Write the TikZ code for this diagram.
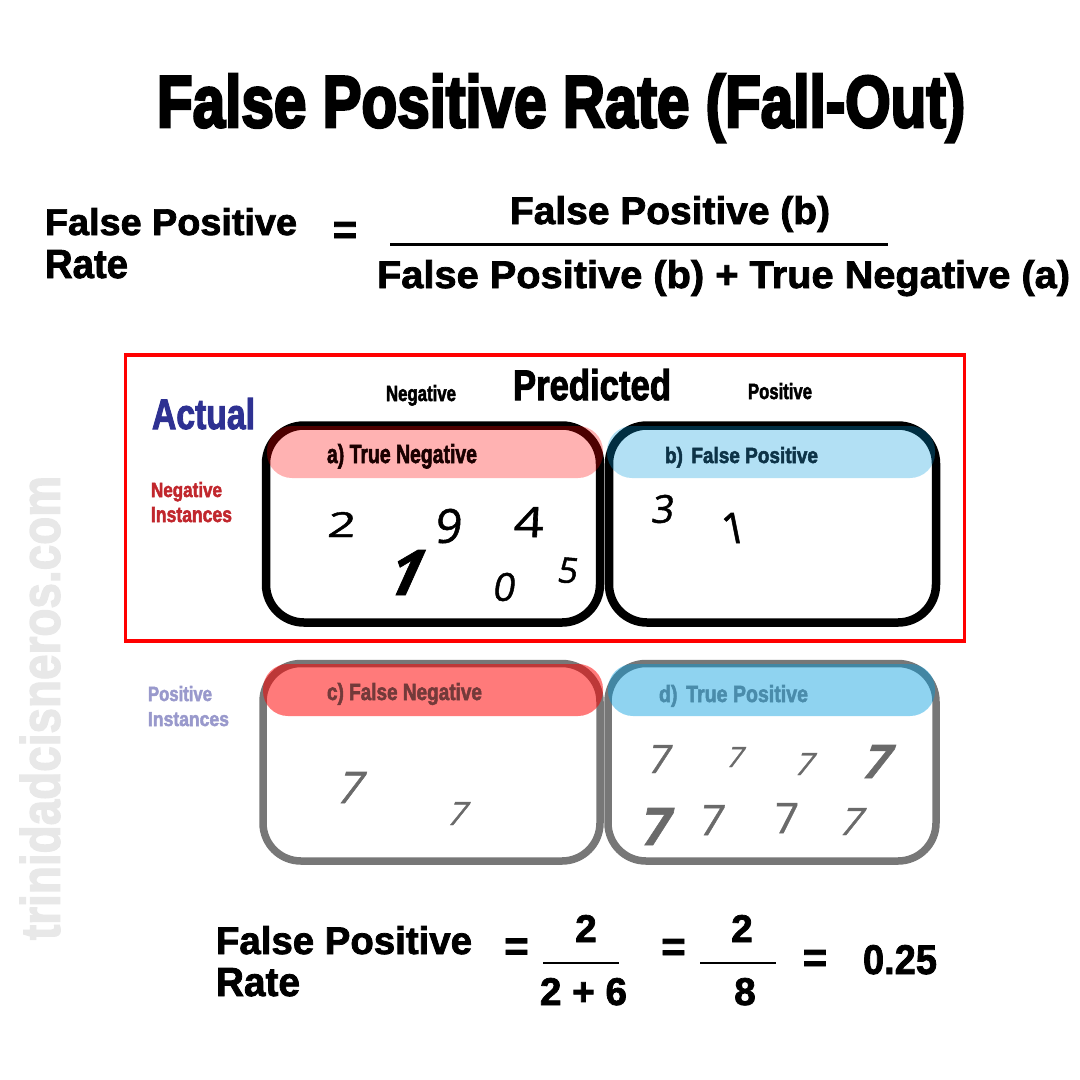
\documentclass[tikz,border=0pt]{standalone}
\usepackage{fontspec}
\setmainfont{Liberation Sans}
\newfontfamily\titlef{Liberation Sans Bold}[FakeBold=4]
\newfontfamily\condf{Liberation Sans Bold}[FakeBold=2.5]
\newfontfamily\heavyf{Liberation Sans Bold}[FakeBold=2]
\newfontfamily\handf{Open Sans}[FakeBold=1.2]
\newcommand{\fitt}[3]{\resizebox{#1pt}{#2pt}{\titlef #3}}
\newcommand{\fitc}[3]{\resizebox{#1pt}{#2pt}{\condf #3}}
\newcommand{\fitb}[3]{\resizebox{#1pt}{#2pt}{\heavyf #3}}
\newcommand{\numb}[2]{\resizebox{!}{#1pt}{\heavyf #2}}
\newcommand{\hdw}[3]{\resizebox{#1pt}{#2pt}{\handf #3}}
\newcommand{\hd}[2]{\resizebox{!}{#1pt}{\handf #2}}
\newcommand{\hdb}[2]{\resizebox{!}{#1pt}{\handf\bfseries #2}}
\definecolor{actualblue}{HTML}{2E3192}
\definecolor{negred}{HTML}{C1272D}
\definecolor{poslav}{HTML}{9999CC}
\definecolor{cellgray}{HTML}{777777}
\definecolor{digitgray}{HTML}{6A6A6A}
\definecolor{wmgray}{HTML}{E8E8E8}
\definecolor{bandblue}{HTML}{009BDD}
\definecolor{txta}{HTML}{1A0000}
\definecolor{txtb}{HTML}{0D3347}
\definecolor{txtc}{HTML}{733A3A}
\definecolor{txtd}{HTML}{4A8CAB}
\begin{document}
\begin{tikzpicture}[x=1pt,y=-1pt,
  lab/.style={inner sep=0pt, outer sep=0pt, anchor=base west},
  hand/.style={inner sep=0pt, outer sep=0pt},
  eqs/.style={inner sep=0pt, outer sep=0pt, anchor=base, font=\fontsize{42}{42}\selectfont\heavyf},
  cellblack/.style={draw=black, line width=8.5pt, rounded corners=38pt},
  cellgrey/.style={draw=cellgray, line width=7.5pt, rounded corners=38pt},
  bandshape/.style={rounded corners=25pt},
]
\fill[white] (0,0) rectangle (1080,1080);
\useasboundingbox (0,0) rectangle (1080,1080);

% watermark
\node[hand, rotate=90, text=wmgray] (wm) at (40,708) {\resizebox{464pt}{40pt}{\condf trinidadcisneros.com}};

% title
\node[lab] (title) at (157,127) {\fitt{808}{53}{False Positive Rate (Fall-Out)}};

% top formula
\node[lab] (fpA) at (45,235) {\fitb{252}{27}{False Positive}};
\node[lab] (rateA) at (45,278) {\fitb{83}{28}{Rate}};
\node[eqs] (eqA) at (345,244) {=};
\node[lab] (numA) at (510,224) {\fitb{320}{28}{False Positive (b)}};
\node[lab] (denA) at (377,288) {\fitb{693}{28}{False Positive (b) + True Negative (a)}};
\draw[line width=3pt] (390,244) -- (888,244);

% red frame
\draw[red, line width=3.5pt] (125.5,355) rectangle (964.5,641);

% headers
\node[lab, text=actualblue] (actual) at (152,429) {\fitc{103}{31}{Actual}};
\node[lab] (hneg) at (386,401) {\fitc{70}{16}{Negative}};
\node[lab] (pred) at (513,400) {\fitc{158}{31}{Predicted}};
\node[lab] (hpos) at (748,399) {\fitc{64}{16}{Positive}};
\node[lab, text=negred] (ni1) at (151,497) {\fitc{71}{15}{Negative}};
\node[lab, text=negred] (ni2) at (151,522) {\fitc{81}{15}{Instances}};
\node[lab, text=poslav] (pi1) at (148,701) {\fitc{64}{15}{Positive}};
\node[lab, text=poslav] (pi2) at (148,726) {\fitc{81}{14}{Instances}};

% cells
\draw[cellblack] (266,425.5) rectangle (600,622.5);
\draw[cellblack] (609,425.5) rectangle (936,622.5);
\draw[cellgrey] (263,663.5) rectangle (600,861);
\draw[cellgrey] (608,663.5) rectangle (936,861);

% bands
\fill[bandshape, red, fill opacity=0.3] (267,426) rectangle (603,478);
\fill[bandshape, bandblue, fill opacity=0.3] (607,426) rectangle (935,478);
\fill[bandshape, red, fill opacity=0.52] (263,664) rectangle (603,716);
\fill[bandshape, bandblue, fill opacity=0.44] (608,664) rectangle (935,716);

% band labels
\node[lab, text=txta] (ta) at (327,463) {\fitc{150}{19}{a) True Negative}};
\node[lab, text=txtb] (tb) at (665,463) {\fitc{153}{16}{b)\, False Positive}};
\node[lab, text=txtc] (tc) at (327,700) {\fitc{155}{17}{c) False Negative}};
\node[lab, text=txtd] (td) at (659,702) {\fitc{149}{17}{d)\, True Positive}};

% digits, cell a
\node[hand, xslant=0.1] (a2) at (342,524.5) {\hdw{28}{25}{2}};
\node[hand, xslant=0.1] (a9) at (449,526) {\hd{34}{9}};
\node[hand, xslant=0.05] (a4) at (529,522) {\hdw{30}{30}{4}};
\node[hand, xslant=0.45] (a1) at (407.5,572.5) {\hdb{45}{1}};
\node[hand, xslant=0.15] (a0) at (505,587) {\hd{28}{0}};
\node[hand, xslant=0.1, rotate=-5] (a5) at (568.5,570.5) {\hd{25}{5}};
% digits, cell b
\node[hand, xslant=0.15] (b3) at (663.5,509) {\hd{28}{3}};
\node[hand, xslant=-0.2] (b1) at (734,528) {\hd{30}{1}};
% digits, cell c
\node[hand, xslant=0.3, text=digitgray] (c1) at (352,787.5) {\hd{31}{7}};
\node[hand, xslant=0.35, text=digitgray] (c2) at (459,813.5) {\hd{23}{7}};
% digits, cell d
\node[hand, xslant=0.2, text=digitgray] (d1) at (660.5,759) {\hd{28}{7}};
\node[hand, xslant=0.3, text=digitgray] (d2) at (736.5,757) {\hd{20}{7}};
\node[hand, xslant=0.35, text=digitgray] (d3) at (806,764) {\hd{22}{7}};
\node[hand, xslant=0.35, text=digitgray] (d4) at (878.5,761.5) {\hdb{33}{7}};
\node[hand, xslant=0.2, text=digitgray] (d5) at (657.5,826.5) {\hdb{37}{7}};
\node[hand, xslant=0.15, text=digitgray] (d6) at (712.5,820) {\hd{30}{7}};
\node[hand, xslant=0.05, text=digitgray] (d7) at (786.5,818) {\hd{30}{7}};
\node[hand, xslant=0.35, text=digitgray] (d8) at (853,821.5) {\hd{27}{7}};

% bottom formula
\node[lab] (fpB) at (216,954) {\fitb{256}{28}{False Positive}};
\node[lab] (rateB) at (216,996) {\fitb{84}{28}{Rate}};
\node[eqs] (eqB) at (516.5,960.5) {=};
\node[hand, anchor=base] (n1) at (586,942) {\numb{27}{2}};
\draw[line width=2pt] (543,963) -- (619,963);
\node[hand, anchor=base] (d1n) at (583.5,1005) {\numb{27}{2 + 6}};
\node[eqs] (eqC) at (673.5,961) {=};
\node[hand, anchor=base] (n2) at (742,942) {\numb{27}{2}};
\draw[line width=2pt] (700,963) -- (776,963);
\node[hand, anchor=base] (d2n) at (745,1005) {\numb{27}{8}};
\node[eqs] (eqD) at (815,972) {=};
\node[lab] (res) at (863,974) {\fitb{74}{29}{0.25}};
\end{tikzpicture}
\end{document}
